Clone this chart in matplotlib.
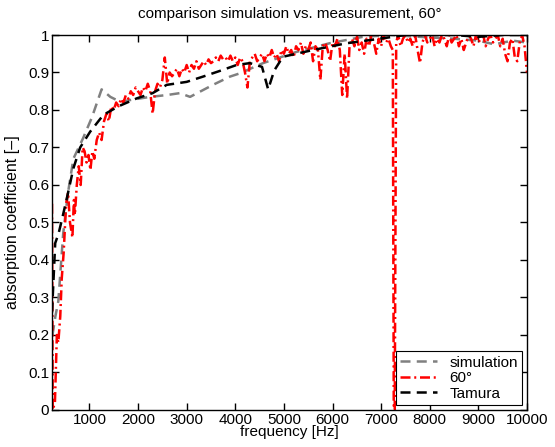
import numpy as np
import matplotlib
matplotlib.use('Agg')
import matplotlib.pyplot as plt

plt.rcParams['font.family'] = ['Liberation Sans', 'DejaVu Sans']

# simulation (grey dashed)
sim_freq = [240, 300, 360, 460, 560, 670, 870, 1050, 1250, 1430, 1630, 2000, 2250,
            2600, 2860, 3070, 3540, 3890, 4100, 4570, 5260, 5940, 6620, 7200, 7800,
            8500, 9000, 9330, 9700, 10000]
sim_val = [0.2, 0.25, 0.29, 0.47, 0.58, 0.67, 0.725, 0.78, 0.855, 0.835, 0.822, 0.83, 0.835,
           0.84, 0.845, 0.835, 0.867, 0.889, 0.898, 0.925, 0.955, 0.978, 0.995, 1.0, 0.995,
           0.99, 0.985, 0.975, 0.985, 0.98]

# Tamura (black dashed)
tam_freq = [230, 296, 364, 433, 536, 671, 809, 1014, 1287, 1600, 1973, 2300, 2589,
            3000, 3335, 3700, 4026, 4300, 4550, 4676, 4800, 4980, 5600, 6290, 6970,
            7500, 8000, 8500, 9000, 9500, 10000]
tam_val = [0.26, 0.445, 0.47, 0.507, 0.565, 0.645, 0.7, 0.742, 0.787, 0.81, 0.831, 0.845, 0.867,
           0.875, 0.889, 0.905, 0.92, 0.925, 0.915, 0.855, 0.905, 0.942, 0.96, 0.978, 0.99,
           1.0, 1.0, 1.0, 0.995, 1.0, 1.0]

# measurement 60 deg (red dash-dot)
meas_freq = [230, 245, 290, 330, 360, 400, 430, 470, 520, 560, 600, 650, 680, 700, 740, 780,
             820, 860, 900, 940, 980, 1020, 1060, 1100, 1150, 1200, 1250, 1300, 1350, 1400,
             1450, 1500, 1550, 1600, 1650, 1700, 1750, 1800, 1850, 1900, 1950, 2000, 2050,
             2100, 2150, 2200, 2250, 2300, 2350, 2400, 2450, 2500, 2550, 2600, 2650, 2700,
             2750, 2800, 2850, 2900, 2950, 3000, 3050, 3100, 3150, 3200, 3250, 3300, 3350,
             3400, 3450, 3500, 3550, 3600, 3650, 3700, 3750, 3800, 3850, 3900, 3950, 4000,
             4050, 4100, 4150, 4200, 4250, 4300, 4350, 4400, 4450, 4500, 4550, 4600, 4650,
             4700, 4750, 4800, 4850, 4900, 4950, 5000, 5050, 5100, 5150, 5200, 5250, 5300,
             5350, 5400, 5450, 5500, 5550, 5600, 5650, 5700, 5750, 5800, 5850, 5900, 5950,
             6000, 6050, 6100, 6150, 6200, 6250, 6300, 6350, 6400, 6450, 6500, 6550, 6600,
             6650, 6700, 6750, 6800, 6850, 6900, 6950, 7000, 7050, 7100, 7150, 7200, 7240,
             7260, 7280, 7310, 7350, 7400, 7450, 7500, 7550, 7600, 7650, 7700, 7750, 7800,
             7850, 7900, 7950, 8000, 8050, 8100, 8150, 8200, 8250, 8300, 8350, 8400, 8450,
             8500, 8550, 8600, 8650, 8700, 8750, 8800, 8850, 8900, 8950, 9000, 9050, 9100,
             9150, 9200, 9250, 9300, 9350, 9400, 9450, 9500, 9550, 9600, 9650, 9700, 9750,
             9800, 9850, 9900, 9950, 10000]
meas_val = [0.55, 0.0, 0.02, 0.2, 0.18, 0.25, 0.35, 0.42, 0.55, 0.58, 0.5, 0.46, 0.56, 0.52,
            0.6, 0.65, 0.6, 0.7, 0.69, 0.66, 0.68, 0.64, 0.69, 0.67, 0.72, 0.74, 0.72, 0.77,
            0.79, 0.77, 0.81, 0.8, 0.82, 0.81, 0.83, 0.82, 0.84, 0.83, 0.85, 0.84, 0.86, 0.85,
            0.84, 0.86, 0.85, 0.87, 0.85, 0.79, 0.85, 0.87, 0.86, 0.88, 0.94, 0.87, 0.9, 0.89,
            0.9, 0.91, 0.89, 0.91, 0.9, 0.92, 0.9, 0.92, 0.91, 0.93, 0.91, 0.92, 0.93, 0.92,
            0.935, 0.925, 0.93, 0.94, 0.93, 0.945, 0.935, 0.94, 0.93, 0.945, 0.93, 0.94, 0.92,
            0.94, 0.93, 0.9, 0.86, 0.93, 0.94, 0.95, 0.93, 0.94, 0.95, 0.93, 0.95, 0.94, 0.96,
            0.94, 0.95, 0.93, 0.96, 0.95, 0.97, 0.95, 0.96, 0.94, 0.97, 0.96, 0.98, 0.95, 0.97,
            0.96, 0.98, 0.93, 0.97, 0.96, 0.88, 0.97, 0.98, 0.96, 0.93, 0.98, 0.97, 0.99, 0.96,
            0.84, 0.95, 0.83, 0.97, 0.99, 0.97, 1.0, 0.96, 0.98, 0.95, 0.99, 0.97, 1.0, 0.98,
            0.95, 0.99, 0.97, 1.0, 0.98, 0.99, 0.97, 0.96, 0.0, 0.0, 0.98, 1.0, 0.97, 0.99,
            1.0, 0.98, 0.99, 0.97, 1.0, 0.96, 0.925, 0.98, 1.0, 0.98, 0.99, 1.0, 0.97, 0.99,
            0.98, 1.0, 0.99, 0.97, 1.0, 0.98, 0.99, 1.0, 0.97, 0.99, 0.96, 0.98, 1.0, 0.99,
            0.97, 1.0, 0.98, 0.99, 1.0, 0.97, 0.99, 1.0, 0.98, 0.99, 1.0, 0.97, 0.99, 0.95,
            0.93, 0.98, 0.99, 0.94, 0.93, 0.98, 1.0, 0.97, 0.9]

fig = plt.figure(figsize=(5.55, 4.47), dpi=100)
ax = fig.add_axes([0.0937, 0.0828, 0.8558, 0.8389])

ax.plot(sim_freq, sim_val, color=(0.5, 0.5, 0.5), linestyle='--', lw=1.8,
        dashes=(4, 2.5), label='simulation')
ax.plot(meas_freq, meas_val, color='r', linestyle='-.', lw=1.8,
        dashes=(4, 1.5, 0.8, 1.5), label='60°')
ax.plot(tam_freq, tam_val, color='k', linestyle='--', lw=1.8,
        dashes=(4, 2.5), label='Tamura')

ax.set_xlim(230, 10000)
ax.set_ylim(0, 1)
ax.set_xticks(np.arange(1000, 10001, 1000))
ax.set_yticks(np.arange(0, 1.01, 0.1))
ax.set_yticklabels(['0', '0.1', '0.2', '0.3', '0.4', '0.5', '0.6', '0.7', '0.8', '0.9', '1'])
ax.tick_params(direction='in', top=True, right=True, length=5, width=1, labelsize=11, pad=2)
for s in ax.spines.values():
    s.set_linewidth(1)

ax.set_title('comparison simulation vs. measurement, 60°', fontsize=11, pad=12)
ax.set_xlabel('frequency [Hz]', fontsize=11, labelpad=-1)
ax.set_ylabel('absorption coefficient [\u2013]', fontsize=11.5)
ax.yaxis.set_label_coords(-0.068, 0.5)

leg = ax.legend(loc='lower right', fontsize=11, frameon=True, fancybox=False,
                edgecolor='k', framealpha=1, handlelength=2.4, borderaxespad=0.3,
                labelspacing=0.1, borderpad=0.3, handletextpad=0.8)
leg.get_frame().set_linewidth(0.8)

fig.savefig('out.png', dpi=100)
